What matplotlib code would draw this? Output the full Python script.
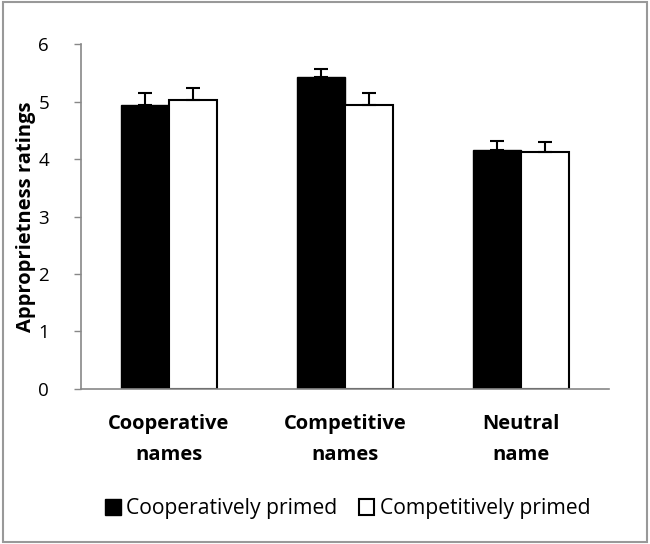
import numpy as np
import matplotlib.pyplot as plt
from matplotlib.patches import Rectangle

categories = ['Cooperative\nnames', 'Competitive\nnames', 'Neutral\nname']
coop_primed = [4.94, 5.42, 4.16]
coop_err = [0.20, 0.15, 0.16]
comp_primed = [5.02, 4.94, 4.12]
comp_err = [0.21, 0.20, 0.18]

plt.rcParams['font.family'] = ['Open Sans', 'DejaVu Sans']

fig = plt.figure(figsize=(6.5, 5.44), dpi=100)
ax = fig.add_axes([0.1246, 0.285, 0.8124, 0.634])

x = np.arange(len(categories))
w = 0.275
ax.bar(x - w / 2, coop_primed, w, color='black', edgecolor='black', linewidth=1,
       yerr=[np.zeros(3), coop_err], error_kw=dict(ecolor='black', capsize=5, elinewidth=1.5, capthick=1.5),
       label='Cooperatively primed')
ax.bar(x + w / 2, comp_primed, w, color='white', edgecolor='black', linewidth=1.5,
       yerr=[np.zeros(3), comp_err], error_kw=dict(ecolor='black', capsize=5, elinewidth=1.5, capthick=1.5),
       label='Competitively primed')

ax.set_xlim(-0.5, 2.5)
ax.set_ylim(0, 6)
ax.set_yticks(range(7))
ax.tick_params(axis='y', labelsize=13.5, length=5, color='#888888', pad=18, width=1)
ax.set_xticks(x)
ax.set_xticklabels(categories, fontsize=14.5, fontweight='bold', linespacing=1.75)
ax.tick_params(axis='x', length=0, pad=18)
ax.set_ylabel('Approprietness ratings', fontsize=14.5, fontweight='bold', labelpad=2)
for s in ['top', 'right']:
    ax.spines[s].set_visible(False)
for s in ['left', 'bottom']:
    ax.spines[s].set_color('#888888')
    ax.spines[s].set_linewidth(1.2)

fig.legend(loc='center', bbox_to_anchor=(0.535, 0.065), ncol=2, frameon=False,
           fontsize=15.2, handlelength=0.75, handleheight=0.75, handletextpad=0.25,
           columnspacing=1.0)

fig.patches.append(Rectangle((0.004, 0.004), 0.992, 0.992, transform=fig.transFigure,
                             fill=False, edgecolor='#999999', linewidth=1.5))

fig.savefig('out.png', dpi=100)
